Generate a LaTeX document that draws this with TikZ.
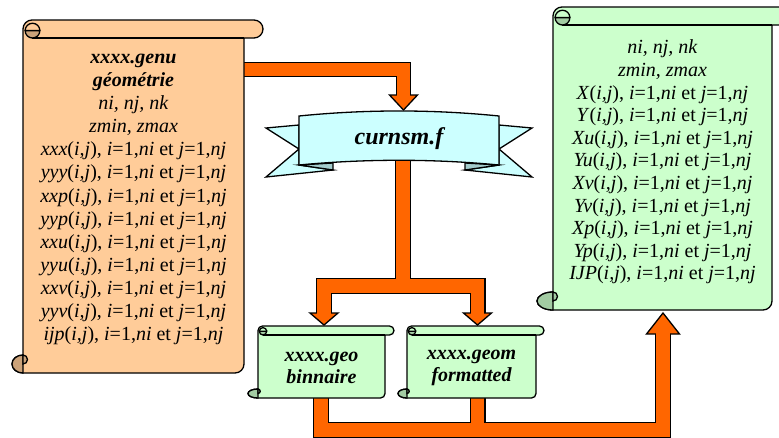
\documentclass[tikz,border=0pt]{standalone}
\usepackage{fontspec}
\setmainfont{Liberation Serif}
\definecolor{peach}{HTML}{FFCC99}
\definecolor{peachdark}{HTML}{CCA37A}
\definecolor{mint}{HTML}{CCFFCC}
\definecolor{mintdark}{HTML}{A3CCA3}
\definecolor{ice}{HTML}{CCFFFF}
\definecolor{icedark}{HTML}{A3CCCC}
\definecolor{flow}{HTML}{FF6600}

% one line of an (i,j) array description
\newcommand\ijrow[1]{\textit{#1}(\textit{i,j}), \textit{i}=1,\textit{ni} et \textit{j}=1,\textit{nj}}

% vertical scroll: #1 left, #2 top, #3 body right, #4 roll end, #5 bottom,
% #6 roll height, #7 width of the lower curl, #8 colour
\newcommand\drawscroll[8]{%
  \pgfmathsetmacro\scrH{#6/2}%
  \pgfmathsetmacro\scrI{0.82*\scrH}%
  \pgfmathsetmacro\scrQ{#6/4}%
  \draw[outline,fill=#8] (#1,{#2+\scrH}) arc[start angle=180,end angle=270,radius=\scrH]
     -- ({#4-\scrH},#2) arc[start angle=270,end angle=450,radius=\scrH]
     -- (#3,{#2+#6}) -- (#3,{#5-\scrH}) arc[start angle=0,end angle=90,radius=\scrH]
     -- (#1,#5) arc[start angle=90,end angle=270,x radius=#7,y radius=\scrH] -- cycle;
  \draw[outline] ({#1+\scrH},{#2+#6}) -- (#3,{#2+#6});
  \draw[outline,fill=#8dark] ({#1+\scrH-\scrI+0.5},{#2+#6-\scrI})
     arc[start angle=180,end angle=0,radius=\scrI] -- cycle;
  \draw[outline] ({#1+\scrH-\scrI+0.5},{#2+#6-\scrI})
     arc[start angle=180,end angle=360,radius=\scrI];
  \draw[outline,fill=#8dark] (#1,#5) arc[start angle=90,end angle=270,x radius=#7,y radius=\scrH] -- cycle;
  \draw[outline,fill=#8dark] (#1,{#5-#6}) arc[start angle=270,end angle=450,radius=\scrQ] -- cycle;
}

\begin{document}
\begin{tikzpicture}[x=1pt,y=-1pt,
  outline/.style={draw=black,line width=1.3pt,line join=miter},
  pipeedge/.style={draw=black,line width=#1,line join=miter,line cap=butt},
  pipefill/.style={draw=flow,line width=#1,line join=miter,line cap=butt},
  pipehead/.style={draw=black,fill=flow,line width=1.3pt,line join=miter},
  txt/.style={inner sep=0pt,align=center,text=black}]
\useasboundingbox (0,0) rectangle (779,437);
\clip (0,0) rectangle (779,437);

% ---- block arrows (outline pass, heads, fill pass)
\coordinate (aS) at (243,69.5);  \coordinate (aK) at (403.5,69.5); \coordinate (aE) at (403.5,95);
\coordinate (bS) at (403,156);   \coordinate (bJ) at (403,286);
\coordinate (bL) at (324,313);   \coordinate (bR) at (477.5,313);
\coordinate (cL) at (321,396);   \coordinate (cM) at (477.5,396);
\coordinate (cE) at (663,334);

\draw[pipeedge=15pt] (aS) -- (aK) -- (aE);
\draw[pipeedge=16pt] (bS) -- (bJ);
\draw[pipeedge=16pt] (bL) |- (bJ) -| (bR);
\draw[pipeedge=16pt] (cL) |- (663,430) -- (cE);
\draw[pipeedge=16pt] (cM) -- (477.5,430);

\draw[pipehead] (389.5,95) -- (417.5,95) -- (403.5,110) -- cycle;
\draw[pipehead] (310,313) -- (338,313) -- (324,325) -- cycle;
\draw[pipehead] (463.5,313) -- (491.5,313) -- (477.5,325) -- cycle;
\draw[pipehead] (646.5,334) -- (679.5,334) -- (663,313) -- cycle;

\draw[pipefill=12.4pt] (aS) -- (aK) -- (403.5,96.5);
\draw[pipefill=13.4pt] (bS) -- (403,287);
\draw[pipefill=13.4pt] (324,314.5) |- (bJ) -| (477.5,314.5);
\draw[pipefill=13.4pt] (cL) |- (663,430) -- (663,332.5);
\draw[pipefill=13.4pt] (cM) -- (477.5,430);

% ---- ribbon banner
\draw[outline,fill=ice] (299,125) -- (266,128) -- (299,149) -- (266,177) -- (333,170) -- (299,165) -- cycle;
\draw[outline,fill=icedark] (299,165) -- (333,163) -- (333,170) -- cycle;
\draw[outline,fill=ice] (499,125) -- (532,128) -- (499,149) -- (532,177) -- (465,170) -- (499,165) -- cycle;
\draw[outline,fill=icedark] (499,165) -- (465,163) -- (465,170) -- cycle;
\draw[outline,fill=ice] (299,116) .. controls (365.7,109.3) and (432.3,109.3) .. (499,116)
   -- (499,165) .. controls (432.3,158.7) and (365.7,158.7) .. (299,165) -- cycle;

% ---- scrolls
\drawscroll{23}{20}{244}{263}{373}{18}{11}{peach}
\drawscroll{553}{7}{772}{791}{310}{18}{16}{mint}
\drawscroll{258}{326}{385}{394}{398}{9}{10}{mint}
\drawscroll{407}{326}{536}{544}{398}{9}{9}{mint}

% ---- texts
\node[txt,font=\fontsize{24}{28}\selectfont\bfseries\itshape] (curnsm) at (399,139) {curnsm.f};

\node[txt,font=\fontsize{20}{23.1}\selectfont] (genu) at (133.5,199.5)
 {\textbf{\textit{xxxx.genu}}\\
  \textbf{\textit{géométrie}}\\
  \textit{ni, nj, nk}\\
  \textit{zmin, zmax}\\
  \ijrow{xxx}\\ \ijrow{yyy}\\ \ijrow{xxp}\\ \ijrow{yyp}\\
  \ijrow{xxu}\\ \ijrow{yyu}\\ \ijrow{xxv}\\ \ijrow{yyv}\\ \ijrow{ijp}};

\node[txt,font=\fontsize{20}{22.6}\selectfont] (grid) at (662.5,162)
 {\textit{ni, nj, nk}\\
  \textit{zmin, zmax}\\
  \ijrow{X}\\ \ijrow{Y}\\ \ijrow{Xu}\\ \ijrow{Yu}\\ \ijrow{Xv}\\
  \ijrow{Yv}\\ \ijrow{Xp}\\ \ijrow{Yp}\\ \ijrow{IJP}};

\node[txt,font=\fontsize{20}{22}\selectfont\bfseries\itshape] (geo) at (321.5,368)
 {xxxx.geo\\ binnaire};
\node[txt,font=\fontsize{20}{22}\selectfont\bfseries\itshape] (geom) at (471.5,368)
 {xxxx.geom\\ formatted};
\end{tikzpicture}
\end{document}
